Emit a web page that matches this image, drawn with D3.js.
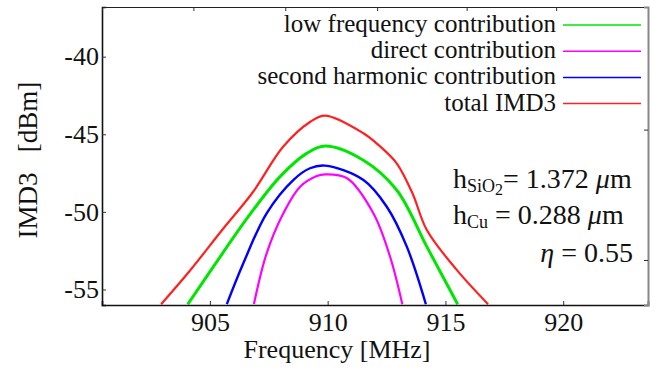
<!DOCTYPE html>
<html>
<head>
<meta charset="utf-8">
<script src="https://cdn.jsdelivr.net/npm/d3@7"></script>
<style>
    body { margin: 0; background: #fff; }
    svg text { font-family: "Liberation Serif", Tinos, Times, "Nimbus Roman", "Noto Serif", FreeSerif, "DejaVu Serif", serif; }
</style>
</head>
<body>
<div id="chart_block"></div>
<script>
// frequency (MHz) / IMD3 (dBm)
var totalFreq = [902.93, 904.07, 905.52, 906.83, 908.1, 909.25, 909.89, 911.5, 912.2, 912.93, 913.6, 914.21, 915.48, 916.81]
var totalVal = [-55.95, -53.94, -51.17, -48.72, -45.82, -44.21, -43.8, -44.92, -45.75, -46.87, -48.8, -51.17, -53.74, -55.95]

var lowFreq = [904.06, 905.15, 906.63, 907.98, 909.11, 909.89, 911.5, 912.93, 914.21, 915.52]
var lowVal = [-55.95, -53.53, -50.31, -47.73, -46.23, -45.76, -46.66, -48.59, -52.24, -55.95]

var secondFreq = [905.72, 906.42, 907.41, 908.54, 909.25, 909.89, 911.52, 912.51, 913.36, 914.17]
var secondVal = [-55.94, -53.31, -50.09, -47.95, -47.19, -47.02, -47.95, -49.67, -52.24, -55.95]

var directFreq = [906.87, 907.41, 908.12, 908.83, 909.54, 909.89, 910.81, 911.94, 912.65, 913.17]
var directVal = [-55.94, -52.67, -50.09, -48.38, -47.69, -47.58, -47.82, -50.09, -52.89, -55.95]

var xTicks = [905, 910, 915, 920]
var yTicks = [-40, -45, -50, -55]
var topTicks = [904.3, 908.2, 912.1, 915.9, 919.7]
var rightTicks = [-44.7, -53.1]

var legendNames = ["low frequency contribution", "direct contribution", "second harmonic contribution", "total IMD3"]
var legendColors = ["#00e600", "#ff00ff", "#0000ff", "#ff2020"]

var width = 662,
    height = 371,
    margin = { top: 7, right: 14, bottom: 66, left: 102 }

var svg = d3.select("#chart_block")
    .append("svg")
    .attr("width", width)
    .attr("height", height)

var x = d3.scaleLinear()
    .domain([900.42, 923.6])
    .range([margin.left, width - margin.right])

var y = d3.scaleLinear()
    .domain([-56, -36.8])
    .range([height - margin.bottom, margin.top])

svg.append("clipPath")
    .attr("id", "plotClip")
    .append("rect")
    .attr("x", margin.left)
    .attr("y", margin.top)
    .attr("width", width - margin.left - margin.right)
    .attr("height", height - margin.top - margin.bottom)

// curves
var line = d3.line()
    .x(function(d) { return x(d[0]) })
    .y(function(d) { return y(d[1]) })
    .curve(d3.curveCatmullRom.alpha(0.5))

var series = [
    { f: totalFreq, v: totalVal, color: legendColors[3], w: 2.2 },
    { f: lowFreq, v: lowVal, color: legendColors[0], w: 3 },
    { f: secondFreq, v: secondVal, color: legendColors[2], w: 2.4 },
    { f: directFreq, v: directVal, color: legendColors[1], w: 2.2 }
]

svg.append("g")
    .attr("clip-path", "url(#plotClip)")
    .selectAll("path")
    .data(series)
    .enter()
    .append("path")
    .attr("d", function(d) { return line(d3.zip(d.f, d.v)) })
    .attr("fill", "none")
    .attr("stroke", function(d) { return d.color })
    .attr("stroke-width", function(d) { return d.w })

// axes
var fmt = function(d) { return String(d) }

var bottomAxis = svg.append("g")
    .attr("transform", "translate(0," + y.range()[0] + ")")
    .call(d3.axisBottom(x).tickValues(xTicks).tickSize(-4).tickPadding(8).tickFormat(fmt))
bottomAxis.select(".domain").attr("stroke", "#111").attr("stroke-width", 1.6)

var leftAxis = svg.append("g")
    .attr("transform", "translate(" + x.range()[0] + ",0)")
    .call(d3.axisLeft(y).tickValues(yTicks).tickSize(-4).tickPadding(3).tickFormat(fmt))
leftAxis.select(".domain").attr("stroke", "#111").attr("stroke-width", 1.6)

var topAxis = svg.append("g")
    .attr("transform", "translate(0," + y.range()[1] + ")")
    .call(d3.axisTop(x).tickValues(topTicks).tickSize(-4).tickFormat(""))
topAxis.select(".domain").attr("stroke", "#222").attr("stroke-width", 1)

var rightAxis = svg.append("g")
    .attr("transform", "translate(" + x.range()[1] + ",0)")
    .call(d3.axisRight(y).tickValues(rightTicks).tickSize(-4).tickFormat(""))
rightAxis.select(".domain").attr("stroke", "#888").attr("stroke-width", 2)

svg.selectAll(".tick line").attr("stroke", "#333")
svg.selectAll(".tick text")
    .attr("font-size", 26)
    .attr("fill", "#111")

// axis titles
svg.append("text")
    .attr("x", 337)
    .attr("y", 358)
    .attr("text-anchor", "middle")
    .attr("font-size", 26)
    .attr("fill", "#111")
    .text("Frequency [MHz]")

svg.append("text")
    .attr("transform", "translate(37,160) rotate(-90)")
    .attr("text-anchor", "middle")
    .attr("font-size", 27)
    .attr("fill", "#111")
    .style("white-space", "pre")
    .text("IMD3   [dBm]")

// legend
var legend = svg.append("g")
    .selectAll("g")
    .data(legendNames)
    .enter()
    .append("g")
    .attr("transform", function(d, i) { return "translate(0," + (25 + i * 26.2) + ")" })

legend.append("text")
    .attr("x", 556)
    .attr("y", 7)
    .attr("text-anchor", "end")
    .attr("font-size", 25)
    .attr("fill", "#111")
    .text(function(d) { return d })

legend.append("line")
    .attr("x1", 563)
    .attr("x2", 641)
    .attr("stroke", function(d, i) { return legendColors[i] })
    .attr("stroke-width", 1.5)

// parameter annotation
var note = svg.append("g").attr("font-size", 28).attr("fill", "#111")

var t1 = note.append("text").attr("x", 453).attr("y", 188)
t1.append("tspan").text("h")
t1.append("tspan").attr("dy", 4).attr("font-size", 18).text("SiO")
t1.append("tspan").attr("dy", 3).attr("font-size", 16).text("2")
t1.append("tspan").attr("dy", -7).text("= 1.372")
t1.append("tspan").attr("font-style", "italic").text("\u00a0\u03bc")
t1.append("tspan").text("m")

var t2 = note.append("text").attr("x", 453).attr("y", 224)
t2.append("tspan").text("h")
t2.append("tspan").attr("dy", 4).attr("font-size", 18).text("Cu")
t2.append("tspan").attr("dy", -4).text(" = 0.288 ")
t2.append("tspan").attr("font-style", "italic").text("\u03bc")
t2.append("tspan").text("m")

var t3 = note.append("text").attr("x", 633).attr("y", 262).attr("text-anchor", "end")
t3.append("tspan").attr("font-style", "italic").text("\u03b7")
t3.append("tspan").text(" = 0.55")
</script>
</body>
</html>
